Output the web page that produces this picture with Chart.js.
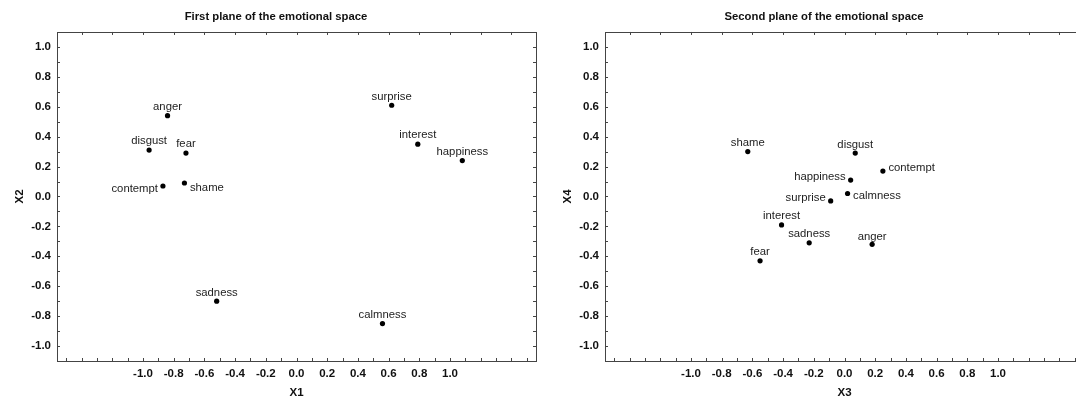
<!DOCTYPE html>
<html>
<head>
<meta charset="utf-8">
<script src="https://cdn.jsdelivr.net/npm/chart.js@4.4.0/dist/chart.umd.min.js"></script>
<style>
html, body { margin: 0; padding: 0; background: #fff; overflow: hidden; width: 1076px; height: 401px; }
.box { position: absolute; top: 0; width: 552px; height: 401px; }
#left { left: 0; }
#right { left: 548px; }
</style>
</head>
<body>
<div class="box" id="left"><canvas id="plane1"></canvas></div>
<div class="box" id="right"><canvas id="plane2"></canvas></div>
<script>
// first plane (X1 / X2)
const emotions1 = ['anger', 'disgust', 'fear', 'contempt', 'shame', 'surprise', 'interest', 'happiness', 'sadness', 'calmness'];
const x1Values = [-0.84, -0.96, -0.72, -0.87, -0.73, 0.62, 0.79, 1.08, -0.52, 0.56];
const x2Values = [0.54, 0.31, 0.29, 0.07, 0.09, 0.61, 0.35, 0.24, -0.70, -0.85];

// second plane (X3 / X4)
const emotions2 = ['shame', 'disgust', 'contempt', 'happiness', 'calmness', 'surprise', 'interest', 'sadness', 'anger', 'fear'];
const x3Values = [-0.63, 0.07, 0.25, 0.04, 0.02, -0.09, -0.41, -0.23, 0.18, -0.55];
const x4Values = [0.30, 0.29, 0.17, 0.11, 0.02, -0.03, -0.19, -0.31, -0.32, -0.43];

// where each name sits relative to its point (side + vertical nudge)
const side1 = ['top', 'top', 'top', 'left', 'right', 'top', 'top', 'top', 'top', 'top'];
const nudge1 = [-9, -9, -9, 3, 5, -8.5, -9, -9, -8.5, -8.5];
const side2 = ['top', 'top', 'right', 'left', 'right', 'left', 'top', 'top', 'top', 'top'];
const nudge2 = [-9, -8.5, -3, -3, 2, -3.5, -9, -9, -7.5, -9];

const FONT = "'Liberation Sans', Arial, sans-serif";

// only even tenths between -1 and 1 get a label
function tickLabel(v) {
    const t = Math.round(v * 10);
    if (Math.abs(t) > 10 || t % 2 !== 0) return '';
    return (t / 10).toFixed(1);
}

// frame around the plot area with small inward ticks
const framePlugin = {
    id: 'frame',
    afterDraw(chart) {
        const ctx = chart.ctx;
        const a = chart.chartArea;
        const x = chart.scales.x, y = chart.scales.y;
        ctx.save();
        ctx.strokeStyle = '#444';
        ctx.lineWidth = 1;
        ctx.strokeRect(Math.round(a.left) + 0.5, Math.round(a.top) + 0.5, Math.round(a.width), Math.round(a.height));
        ctx.beginPath();
        x.ticks.forEach(t => {
            const px = Math.round(x.getPixelForValue(t.value)) + 0.5;
            ctx.moveTo(px, a.bottom); ctx.lineTo(px, a.bottom - 3);
            if (Math.round(t.value * 10) % 2 === 0) {
                ctx.moveTo(px, a.top); ctx.lineTo(px, a.top + 3);
            }
        });
        y.ticks.forEach(t => {
            const py = Math.round(y.getPixelForValue(t.value)) + 0.5;
            ctx.moveTo(a.left, py); ctx.lineTo(a.left + 3, py);
            ctx.moveTo(a.right, py); ctx.lineTo(a.right - 3, py);
        });
        ctx.stroke();
        ctx.restore();
    }
};

// names next to the points
const namePlugin = {
    id: 'names',
    afterDatasetsDraw(chart) {
        const ctx = chart.ctx;
        const opts = chart.options.plugins.names;
        const meta = chart.getDatasetMeta(0);
        ctx.save();
        ctx.font = '11.3px ' + FONT;
        ctx.fillStyle = '#222';
        ctx.textBaseline = 'middle';
        meta.data.forEach((pt, i) => {
            const s = opts.sides[i];
            const dy = opts.nudges[i];
            if (s === 'top') {
                ctx.textAlign = 'center';
                ctx.fillText(opts.labels[i], pt.x, pt.y + dy);
            } else if (s === 'left') {
                ctx.textAlign = 'right';
                ctx.fillText(opts.labels[i], pt.x - 5, pt.y + dy);
            } else {
                ctx.textAlign = 'left';
                ctx.fillText(opts.labels[i], pt.x + 5.5, pt.y + dy);
            }
        });
        ctx.restore();
    }
};

function makePlane(canvasId, title, xTitle, yTitle, names, xs, ys, sides, nudges) {
    const points = xs.map((v, i) => ({ x: v, y: ys[i] }));
    const boldFont = { family: FONT, size: 11.5, weight: 'bold' };
    return new Chart(document.getElementById(canvasId), {
        type: 'scatter',
        data: {
            datasets: [{
                data: points,
                backgroundColor: '#000',
                borderWidth: 0,
                pointRadius: 2.6,
                pointHoverRadius: 2.6
            }]
        },
        options: {
            responsive: true,
            maintainAspectRatio: false,
            animation: false,
            events: [],
            layout: { padding: 0 },
            plugins: {
                legend: { display: false },
                tooltip: { enabled: false },
                title: {
                    display: true,
                    text: title,
                    color: '#111',
                    font: { family: FONT, size: 11.3, weight: 'bold' },
                    padding: { top: 9.9, bottom: 8.5 }
                },
                names: { labels: names, sides: sides, nudges: nudges }
            },
            scales: {
                x: {
                    type: 'linear',
                    min: -1.56,
                    max: 1.56,
                    grid: { display: false, drawTicks: false },
                    border: { display: false },
                    ticks: {
                        stepSize: 0.1,
                        includeBounds: false,
                        autoSkip: false,
                        maxRotation: 0,
                        padding: 6,
                        color: '#111',
                        font: boldFont,
                        callback: tickLabel
                    },
                    title: {
                        display: true,
                        text: xTitle,
                        color: '#111',
                        font: boldFont,
                        padding: { top: 4, bottom: 1 }
                    },
                    afterFit(scale) { scale.height = 40; }
                },
                y: {
                    type: 'linear',
                    min: -1.1,
                    max: 1.1,
                    grid: { display: false, drawTicks: false },
                    border: { display: false },
                    ticks: {
                        stepSize: 0.1,
                        includeBounds: false,
                        autoSkip: false,
                        padding: 6,
                        color: '#111',
                        font: boldFont,
                        callback: tickLabel
                    },
                    title: {
                        display: true,
                        text: yTitle,
                        color: '#111',
                        font: boldFont,
                        padding: { top: 13, bottom: 0 }
                    },
                    afterFit(scale) { scale.width = 57; }
                },
                // empty right axis, only keeps a margin beside the frame
                yr: {
                    type: 'linear',
                    position: 'right',
                    min: -1.1,
                    max: 1.1,
                    grid: { display: false, drawTicks: false },
                    border: { display: false },
                    ticks: { display: false },
                    afterFit(scale) { scale.width = 16; }
                }
            }
        },
        plugins: [framePlugin, namePlugin]
    });
}

makePlane('plane1', 'First plane of the emotional space', 'X1', 'X2', emotions1, x1Values, x2Values, side1, nudge1);
makePlane('plane2', 'Second plane of the emotional space', 'X3', 'X4', emotions2, x3Values, x4Values, side2, nudge2);
</script>
</body>
</html>
